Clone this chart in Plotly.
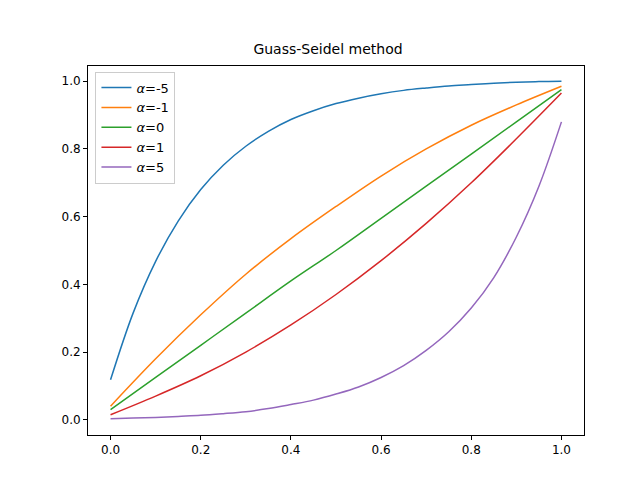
import plotly.graph_objects as go

x21 = [i/20 for i in range(21)]
x11 = [i/10 for i in range(11)]
a_m5 = [0.118,0.315,0.468,0.587,0.680,0.752,0.808,0.852,0.887,0.913,0.934,0.950,0.963,0.973,0.980,0.986,0.990,0.994,0.997,0.999,1.0]
a_m1 = [0.04,0.18,0.31,0.43,0.535,0.63,0.72,0.80,0.87,0.93,0.985]
a_0 = [0.03,0.125,0.22,0.315,0.41,0.50,0.595,0.69,0.785,0.88,0.975]
a_1 = [0.015,0.07,0.13,0.20,0.28,0.37,0.47,0.58,0.70,0.83,0.965]
a_5 = [0.003,0.005,0.007,0.01,0.013,0.018,0.024,0.033,0.045,0.058,0.076,0.097,0.125,0.16,0.205,0.26,0.33,0.42,0.54,0.69,0.88]

series = [("<i>α</i>=-5", x21, a_m5, "#1f77b4"), ("<i>α</i>=-1", x11, a_m1, "#ff7f0e"),
          ("<i>α</i>=0", x11, a_0, "#2ca02c"), ("<i>α</i>=1", x11, a_1, "#d62728"),
          ("<i>α</i>=5", x21, a_5, "#9467bd")]

fig = go.Figure()
for name, xs, ys, c in series:
    fig.add_trace(go.Scatter(x=xs, y=ys, mode="lines", name=name,
                             line=dict(color=c, width=1.5, shape="spline")))

ax = dict(showgrid=False, zeroline=False, showline=True, mirror=True, linecolor="black",
          ticks="outside", ticklen=4, tickcolor="black", automargin=False,
          tickfont=dict(size=12, color="black"))
fig.update_layout(
    width=640, height=480, plot_bgcolor="white", paper_bgcolor="white",
    margin=dict(l=80, r=64, t=58, b=53),
    font=dict(family="DejaVu Sans", color="black"),
    title=dict(text="Guass-Seidel method", x=0.5, xanchor="center", y=0.925, font=dict(size=14)),
    xaxis=dict(range=[-0.05, 1.05], tickvals=[0,0.2,0.4,0.6,0.8,1.0], ticktext=["0.0","0.2","0.4","0.6","0.8","1.0"], **ax),
    yaxis=dict(range=[-0.045, 1.045], tickvals=[0,0.2,0.4,0.6,0.8,1.0], ticktext=["0.0","0.2","0.4","0.6","0.8","1.0"], **ax),
    legend=dict(x=0.015, y=0.985, xanchor="left", yanchor="top", bgcolor="white",
                bordercolor="#cccccc", borderwidth=1, font=dict(size=13)),
)
fig.write_html("out.html")
